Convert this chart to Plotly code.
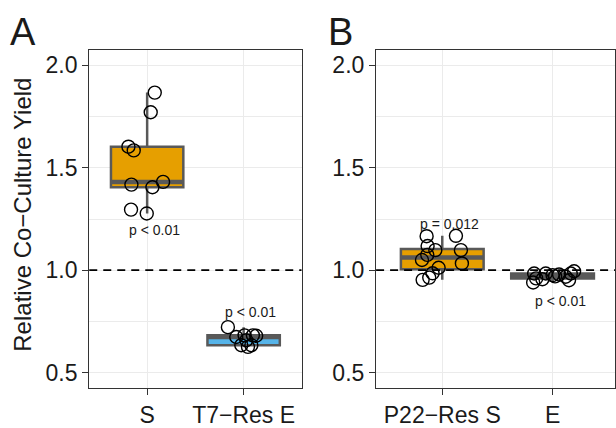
import numpy as np
import plotly.graph_objects as go

# ---------------- data ----------------
cats_A = ["S", "T7−Res E"]
cats_B = ["P22−Res S", "E"]

vals_A_S = [1.867, 1.771, 1.603, 1.585, 1.418, 1.405, 1.431, 1.296, 1.277]
jit_A_S = [0.079, 0.037, -0.194, -0.139, -0.163, 0.055, 0.165, -0.167, -0.004]

vals_A_T7 = [0.722, 0.674, 0.682, 0.682, 0.634, 0.626, 0.634, 0.658, 0.680]
jit_A_T7 = [-0.163, -0.076, 0.010, 0.096, -0.024, 0.045, 0.080, 0.028, 0.130]

vals_B_P22 = [1.166, 1.168, 1.118, 1.098, 1.098, 1.075, 1.050, 1.033, 1.012, 0.985, 0.964, 0.953]
jit_B_P22 = [-0.142, 0.124, -0.133, -0.063, 0.169, -0.136, -0.184, 0.178, -0.033, -0.088, -0.118, -0.178]

vals_B_E = [0.984, 0.940, 0.960, 0.984, 0.976, 0.979, 0.968, 0.984, 0.995, 0.951, 0.956, 0.970]
jit_B_E = [-0.167, -0.176, -0.149, -0.062, 0.0, 0.059, 0.119, 0.165, 0.195, 0.149, -0.092, 0.023]

p_labels_A = ["p < 0.01", "p < 0.01"]
p_y_A = [1.194, 0.795]
p_labels_B = ["p = 0.012", "p < 0.01"]
p_y_B = [1.226, 0.849]

y_ticks = [0.5, 1.0, 1.5, 2.0]
y_tick_labels = ["0.5", "1.0", "1.5", "2.0"]
y_minor = [0.75, 1.25, 1.75]

ORANGE = "#E69F00"
BLUE = "#56B4E9"
BOXLINE = "#595959"
FONT = "Liberation Sans, Arial, sans-serif"

fig = go.Figure()


def add_group(pos, vals, jit, fill, xa, ya):
    v = np.array(vals)
    q1, med, q3 = np.percentile(v, [25, 50, 75])
    iqr = q3 - q1
    lo = v[v >= q1 - 1.5 * iqr].min()
    hi = v[v <= q3 + 1.5 * iqr].max()
    fig.add_trace(go.Box(
        x=[pos], q1=[q1], median=[med], q3=[q3], lowerfence=[lo], upperfence=[hi],
        width=0.75, fillcolor=fill, line=dict(color=BOXLINE, width=2.5),
        whiskerwidth=0, boxpoints=False, showlegend=False, hoverinfo="skip",
        xaxis=xa, yaxis=ya))
    fig.add_trace(go.Scatter(
        x=[pos - 0.375, pos + 0.375], y=[med, med], mode="lines",
        line=dict(color=BOXLINE, width=4.5), showlegend=False, hoverinfo="skip",
        xaxis=xa, yaxis=ya))
    fig.add_trace(go.Scatter(
        x=pos + np.array(jit), y=v, mode="markers",
        marker=dict(symbol="circle-open", size=13, color="black", line=dict(width=1.4)),
        showlegend=False, hoverinfo="skip", xaxis=xa, yaxis=ya))


add_group(1, vals_A_S, jit_A_S, ORANGE, "x", "y")
add_group(2, vals_A_T7, jit_A_T7, BLUE, "x", "y")
add_group(1, vals_B_P22, jit_B_P22, ORANGE, "x2", "y2")
add_group(2, vals_B_E, jit_B_E, BLUE, "x2", "y2")

W, H = 616, 428
MT, MB = 50, 35
axis_common = dict(
    showgrid=True, gridcolor="#EBEBEB", gridwidth=1.2,
    ticks="outside", ticklen=6, tickwidth=1.3, tickcolor="#333333",
    showline=True, mirror=True, linecolor="#333333", linewidth=1.3,
    zeroline=False, tickfont=dict(family=FONT, size=23, color="#1a1a1a"),
)

yaxis_common = dict(axis_common, range=[0.425, 2.075], tickvals=y_ticks, ticktext=y_tick_labels,
                    minor=dict(tickvals=y_minor, showgrid=True, gridcolor="#EBEBEB", gridwidth=1.0, ticks=""))

fig.update_layout(
    width=W, height=H,
    margin=dict(l=0, r=0, t=MT, b=MB),
    paper_bgcolor="white", plot_bgcolor="white",
    font=dict(family=FONT),
    xaxis=dict(axis_common, domain=[89.4 / W, 302 / W], range=[0.4, 2.6],
               tickvals=[1, 2], ticktext=cats_A),
    yaxis=dict(yaxis_common, anchor="x"),
    xaxis2=dict(axis_common, domain=[376.7 / W, 1.0], range=[0.4, 2.566],
                tickvals=[1, 2], ticktext=cats_B, anchor="y2"),
    yaxis2=dict(yaxis_common, anchor="x2"),
    showlegend=False,
)

# dashed reference lines at y = 1
for xr, yr in [("x domain", "y"), ("x2 domain", "y2")]:
    fig.add_shape(type="line", xref=xr, x0=0, x1=1, yref=yr, y0=1, y1=1,
                  line=dict(color="black", width=1.8, dash="8px,6px"), layer="above")

# p-value labels
for i, (lab, yv) in enumerate(zip(p_labels_A, p_y_A)):
    fig.add_annotation(x=i + 1 + 0.075, y=yv, xref="x", yref="y", text=lab, showarrow=False,
                       font=dict(family=FONT, size=14, color="#1a1a1a"))
for i, (lab, yv) in enumerate(zip(p_labels_B, p_y_B)):
    fig.add_annotation(x=i + 1 + 0.07, y=yv, xref="x2", yref="y2", text=lab, showarrow=False,
                       font=dict(family=FONT, size=14, color="#1a1a1a"))

PH = H - MT - MB


def py(px):  # pixel row -> paper y
    return (H - MB - px) / PH


# y-axis title
fig.add_annotation(x=21.7 / W, y=py(217.5), xref="paper", yref="paper", text="Relative Co−Culture Yield",
                   textangle=-90, showarrow=False, xanchor="center", yanchor="middle",
                   font=dict(family=FONT, size=24, color="#1a1a1a"))

# panel letters
fig.add_annotation(x=8 / W, y=py(8), xref="paper", yref="paper", text="A",
                   showarrow=False, xanchor="left", yanchor="top",
                   font=dict(family=FONT, size=38, color="#1a1a1a"))
fig.add_annotation(x=327 / W, y=py(8), xref="paper", yref="paper", text="B",
                   showarrow=False, xanchor="left", yanchor="top",
                   font=dict(family=FONT, size=38, color="#1a1a1a"))

fig.write_html("out.html", config={"displayModeBar": False},
               post_script="document.body.style.margin='0';document.body.style.overflow='hidden';")
